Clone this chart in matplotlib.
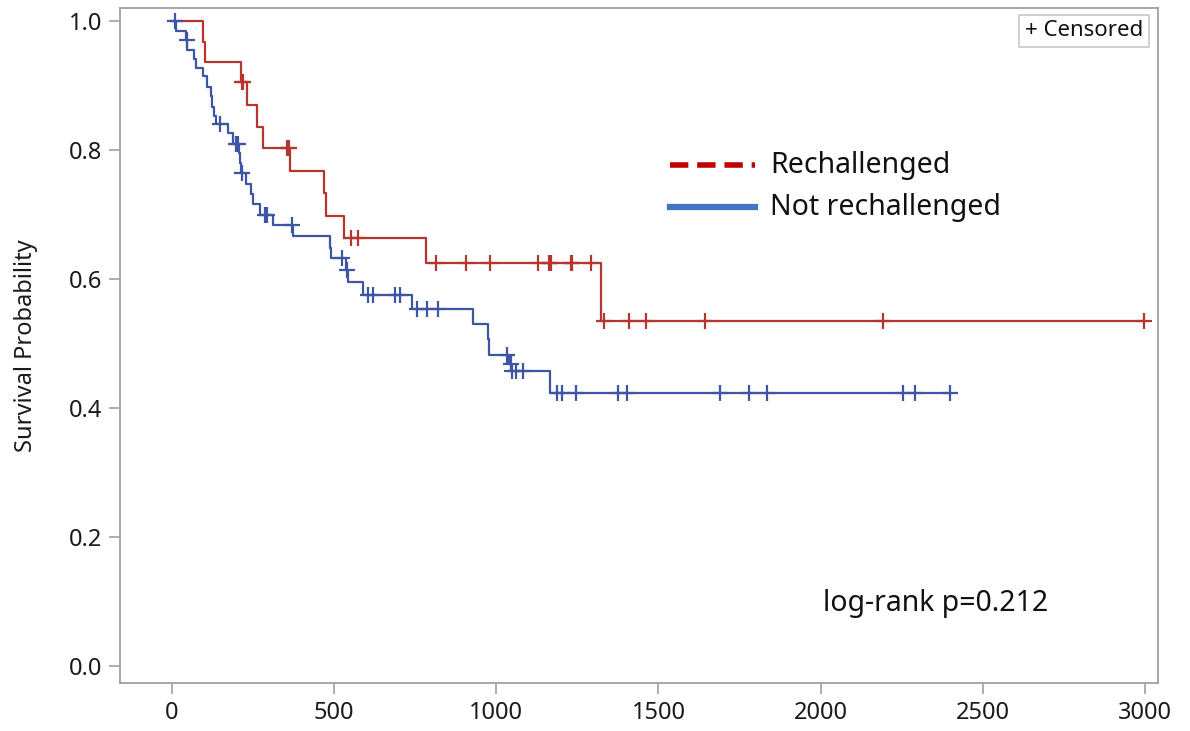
import numpy as np
import matplotlib
matplotlib.use("Agg")
import matplotlib.pyplot as plt
from matplotlib.lines import Line2D

# ---- data ----
red_event_times = [96, 102, 213, 232, 262, 281, 364, 469, 475, 530, 783, 1323]
red_surv = [0.967, 0.936, 0.905, 0.870, 0.836, 0.803, 0.767, 0.733, 0.698, 0.664, 0.625, 0.535]
red_censor = [216, 219, 355, 361, 552, 573, 814, 908, 981, 1129, 1163, 1169, 1230,
              1233, 1292, 1332, 1410, 1462, 1643, 2192, 2997]

blue_event_times = [14, 43, 47, 69, 74, 95, 107, 119, 124, 130, 136, 174, 189, 207, 210,
                    213, 228, 243, 251, 271, 312, 372, 487, 490, 537, 544, 590, 739, 929,
                    975, 978, 1040, 1046, 1166]
blue_surv = [0.985, 0.970, 0.955, 0.941, 0.927, 0.914, 0.898, 0.883, 0.867, 0.853, 0.841,
             0.826, 0.810, 0.795, 0.780, 0.764, 0.748, 0.732, 0.717, 0.700, 0.684, 0.667,
             0.648, 0.632, 0.614, 0.596, 0.575, 0.554, 0.531, 0.507, 0.482, 0.469, 0.457, 0.424]
blue_censor = [9, 46, 148, 198, 203, 215, 288, 293, 369, 523, 539, 605, 621, 688, 703, 755,
               785, 821, 1032, 1044, 1050, 1062, 1083, 1186, 1204, 1247, 1376, 1404, 1690,
               1780, 1835, 2255, 2291, 2400]

x_ticks = [0, 500, 1000, 1500, 2000, 2500, 3000]
y_ticks = [0.0, 0.2, 0.4, 0.6, 0.8, 1.0]
labels = ["Rechallenged", "Not rechallenged"]
pvalue_text = "log-rank p=0.212"

RED = "#B5362F"
BLUE = "#3D55A3"
LEG_RED = "#C00000"
LEG_BLUE = "#4472C4"

plt.rcParams['font.family'] = ['Noto Sans', 'DejaVu Sans']

fig = plt.figure(figsize=(11.9, 7.31), dpi=100)
ax = fig.add_axes([120 / 1190, 1 - 683 / 731, 1038 / 1190, 675 / 731])


def km(ax, ev_t, ev_s, cens, color, z):
    end = max(max(cens), max(ev_t))
    t = np.concatenate([[0], ev_t, [end]])
    s = np.concatenate([[1.0], ev_s, [ev_s[-1]]])
    ax.step(t, s, where='post', color=color, lw=1.6, zorder=z)
    idx = np.searchsorted(np.asarray(ev_t), np.asarray(cens), side='right')
    s_all = np.concatenate([[1.0], ev_s])
    ax.plot(cens, s_all[idx], ls='none', marker='+', ms=11, mew=1.6,
            color=color, zorder=z)


km(ax, red_event_times, red_surv, red_censor, RED, 3)
km(ax, blue_event_times, blue_surv, blue_censor, BLUE, 4)

ax.set_xlim(-160, 3040)
ax.set_ylim(-0.026, 1.020)
ax.set_xticks(x_ticks)
ax.set_yticks(y_ticks)
ax.set_yticklabels([f"{v:.1f}" for v in y_ticks])
ax.tick_params(direction='out', length=8, width=1.2, color='#A0A0A0',
               labelsize=17, pad=5, labelcolor='#1a1a1a')
for sp in ax.spines.values():
    sp.set_color('#A0A0A0')
    sp.set_linewidth(1.3)
ax.set_ylabel("Survival Probability", fontsize=17, color='#1a1a1a', labelpad=22)

# legend drawn manually
ax.add_line(Line2D([0.530, 0.612], [0.767, 0.767], transform=ax.transAxes,
                   color=LEG_RED, lw=4, ls=(0, (3.3, 1.6))))
ax.add_line(Line2D([0.530, 0.612], [0.705, 0.705], transform=ax.transAxes,
                   color=LEG_BLUE, lw=4.5))
ax.text(0.626, 0.767, labels[0], transform=ax.transAxes, fontsize=20.5,
        va='center', ha='left', color='#111111')
ax.text(0.626, 0.705, labels[1], transform=ax.transAxes, fontsize=20.5,
        va='center', ha='left', color='#111111')

ax.text(0.677, 0.1185, pvalue_text, transform=ax.transAxes, fontsize=20.5,
        va='center', ha='left', color='#111111')

ax.text(0.9855, 0.966, "+ Censored", transform=ax.transAxes, fontsize=16,
        va='center', ha='right', color='#111111',
        bbox=dict(boxstyle='square,pad=0.25', fc='white', ec='#C8C8C8', lw=1.2))

fig.savefig("out.png", dpi=100)
